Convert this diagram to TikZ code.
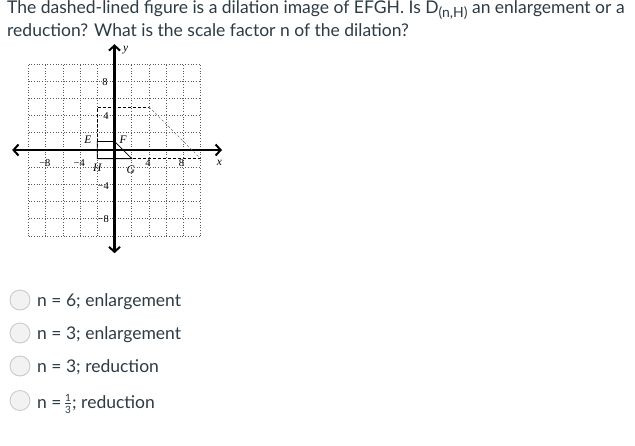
\documentclass[tikz,border=0pt]{standalone}
\usepackage{fontspec}
\setmainfont{Lato}
\newfontfamily\gfont{Liberation Serif}
\usetikzlibrary{arrows.meta}
\definecolor{txt}{HTML}{2D3B45}
\definecolor{radfill}{HTML}{F2F2F2}
\definecolor{radline}{HTML}{C4C8CC}
\begin{document}
\begin{tikzpicture}[x=1pt,y=-1pt,
  qtext/.style={anchor=base west, inner sep=0pt, text=txt, font=\fontsize{17.5}{17.5}\selectfont},
  fractext/.style={inner sep=0pt, text=txt, font=\fontsize{10}{10}\selectfont},
  radio/.style={circle, draw=radline, fill=radfill, line width=0.8pt, minimum size=20pt, inner sep=0pt},
  lbl/.style={inner sep=0pt, font=\gfont\fontsize{10.5}{10.5}\selectfont},
  vlbl/.style={inner sep=0pt, font=\gfont\itshape\fontsize{11.5}{11.5}\selectfont},
  axis/.style={line width=2.2pt, {Straight Barb[length=5pt,width=11pt,line width=2pt]}-{Straight Barb[length=5pt,width=11pt,line width=2pt]}},
  gridline/.style={gray!70!black, dotted, line width=0.7pt},
  imgline/.style={line width=0.8pt, dash pattern=on 3pt off 2pt},
  diagline/.style={gray!90!black, line width=0.5pt, dash pattern=on 2.5pt off 2pt},
  figline/.style={line width=0.8pt}]
\useasboundingbox (0,0) rectangle (635,445);
\fill[white] (0,0) rectangle (635,445);
\node[qtext] (q1) at (7,13.5) {The dashed-lined figure is a dilation image of EFGH. Is D\raisebox{-3.5pt}{\fontsize{14}{14}\selectfont(n,H)} an enlargement or a};
\node[qtext] (q2) at (7,36.5) {reduction? What is the scale factor n of the dilation?};

\begin{scope}[shift={(114.5,150)}, x=8.6pt, y=8.6pt]
  \draw[gridline] (-10,-10) grid[step=2] (10,10);
  \coordinate (xl) at (-11.9,0);
  \coordinate (xr) at (12.5,0);
  \coordinate (yt) at (0,12.3);
  \coordinate (yb) at (0,-12);
  \draw[axis] (xl) -- (xr);
  \draw[axis] (yb) -- (yt);
  \coordinate (H) at (-2,-1);
  \coordinate (E) at (-2,1);
  \coordinate (F) at (0,1);
  \coordinate (G) at (2,-1);
  \coordinate (E2) at (-2,5);
  \coordinate (F2) at (4,5);
  \coordinate (G2) at (10,-1);
  \draw[imgline] (G2) -- (H) -- (E2) -- (F2);
  \draw[diagline] (F2) -- (G2);
  \draw[figline] (H) -- (E) -- (F) -- (G) -- cycle;
  \node[vlbl] (lE) at (-3.1,1.25) {E};
  \node[vlbl] (lF) at (1.0,1.25) {F};
  \node[vlbl] (lH) at (-2.0,-2.1) {H};
  \node[vlbl] (lG) at (1.9,-2.3) {G};
  \node[vlbl] (ly) at (1.3,11.6) {y};
  \node[vlbl] (lx) at (12.2,-1.5) {x};
  \node[lbl] (t8) at (-1.1,7.9) {8};
  \node[lbl] (t4) at (-1.0,3.95) {4};
  \node[lbl] (tm4) at (-1.3,-4.2) {−4};
  \node[lbl] (tm8) at (-1.3,-8) {−8};
  \node[lbl] (xm8) at (-8.1,-1.5) {−8};
  \node[lbl] (xm4) at (-4.1,-1.5) {−4};
  \node[lbl] (x4) at (3.9,-1.5) {4};
  \node[lbl] (x8) at (7.8,-1.5) {8};
\end{scope}

\node[radio] (c1) at (20,300) {};
\node[radio] (c2) at (20,333) {};
\node[radio] (c3) at (20,366) {};
\node[radio] (c4) at (20,400.5) {};
\node[qtext] (o1) at (37,306) {n = 6; enlargement};
\node[qtext] (o2) at (37,339) {n = 3; enlargement};
\node[qtext] (o3) at (37,372) {n = 3; reduction};
\node[qtext] (o4a) at (37,408) {n =};
\node[fractext] (f1) at (68,397.5) {1};
\node[fractext] (f3) at (68,409.5) {3};
\coordinate (fbl) at (65,403.3);
\coordinate (fbr) at (71,403.3);
\draw[txt, line width=0.6pt] (fbl) -- (fbr);
\node[qtext] (o4b) at (72,408) {; reduction};
\end{tikzpicture}
\end{document}
